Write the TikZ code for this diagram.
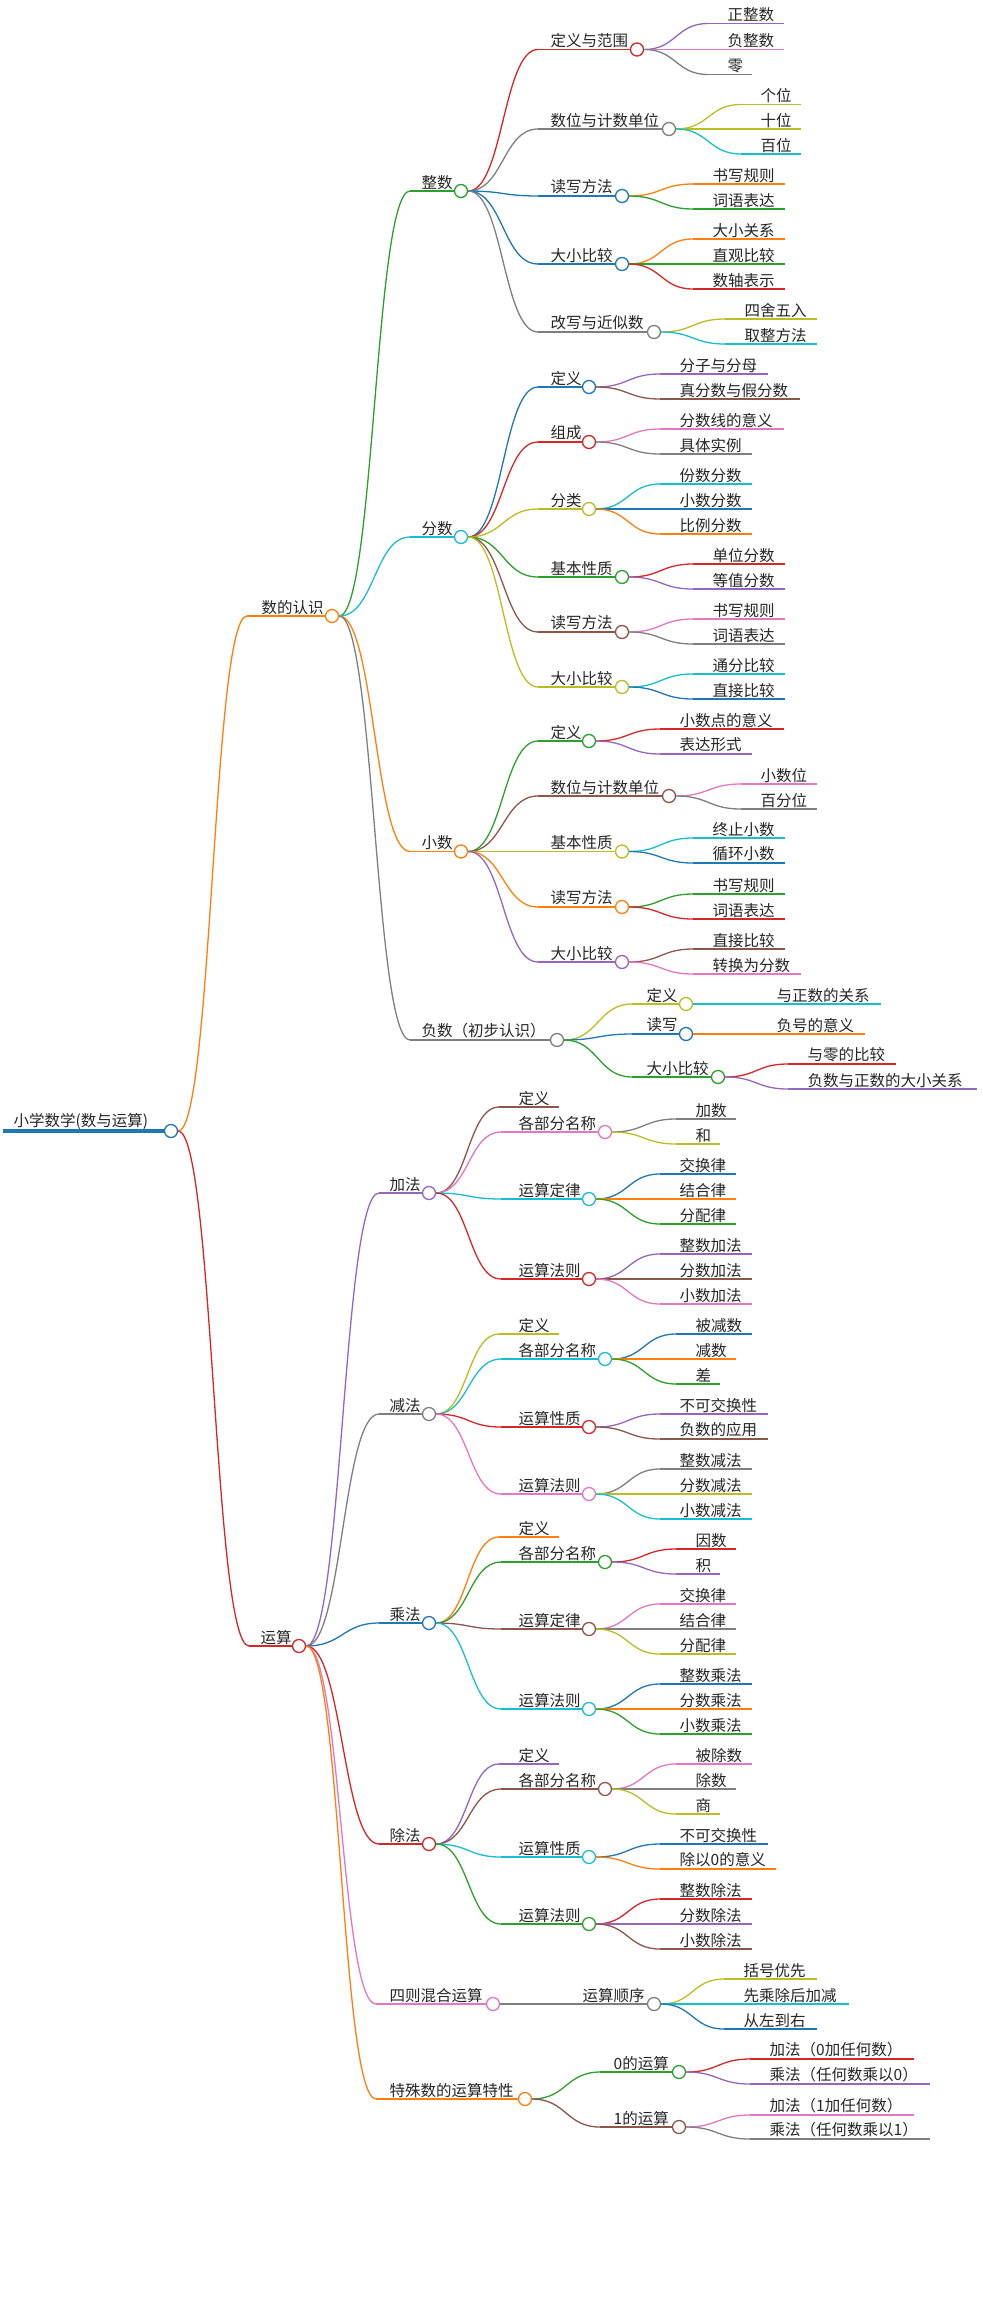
\documentclass[tikz,border=0pt]{standalone}
\usepackage{fontspec}
\setmainfont{Noto Sans CJK SC}
\usetikzlibrary{calc}
\definecolor{blue}{HTML}{1F77B4}
\definecolor{orange}{HTML}{FF7F0E}
\definecolor{green}{HTML}{2CA02C}
\definecolor{red}{HTML}{D62728}
\definecolor{purple}{HTML}{9467BD}
\definecolor{brown}{HTML}{8C564B}
\definecolor{pink}{HTML}{E377C2}
\definecolor{gray}{HTML}{7F7F7F}
\definecolor{olive}{HTML}{BCBD22}
\definecolor{cyan}{HTML}{17BECF}
\tikzset{
 lw/.style={line width=1.3pt},
 circ/.style={circle,minimum size=13pt,inner sep=0pt,line width=1.3pt,fill=white},
 lbl/.style={anchor=south west,inner sep=1.5pt,font=\fontsize{15.5}{18}\selectfont,text=black!85}
}
\newcommand\conn[3]{\draw[#3,lw] let \p1=(#1.east),\p2=(#2) in (\p1) .. controls ({0.5*\x1+0.5*\x2},\y1) and ({0.5*\x1+0.5*\x2},\y2) .. (\p2);}
% name parent xs xt y cx color text
\newcommand\inode[8]{%
 \coordinate (#1-s) at (#3,#5);
 \conn{#2}{#1-s}{#7}
 \draw[#7,lw] (#1-s) -- (#6,#5);
 \node[lbl] (#1-t) at (#4,#5) {#8};
 \node[circ,draw=#7] (#1) at (#6,#5) {};}
% name parent xt y xend color text
\newcommand\leaf[7]{%
 \coordinate (#1-s) at ({#3-18},#4);
 \coordinate (#1) at (#5,#4);
 \conn{#2}{#1-s}{#6}
 \draw[#6,lw] (#1-s) -- (#1);
 \node[lbl] (#1-t) at (#3,#4) {#7};}
\begin{document}
\begin{tikzpicture}[x=1pt,y=-1pt]
\useasboundingbox (0,0) rectangle (982,2298);
\fill[white] (0,0) rectangle (982,2298);
% root
\coordinate (R-s) at (3,1131);
\draw[blue,line width=4pt] (R-s) -- (171,1131);
\node[lbl] (R-t) at (12,1131) {小学数学(数与运算)};
\node[circ,draw=blue] (R) at (171,1131) {};
% 数的认识
\inode{A}{R}{247}{260}{616}{332}{orange}{数的认识}
\inode{Z}{A}{410}{420}{191}{461}{green}{整数}
\inode{Z1}{Z}{538}{549}{49.5}{637}{red}{定义与范围}
\leaf{Z1a}{Z1}{726}{23.5}{784}{purple}{正整数}
\leaf{Z1b}{Z1}{726}{49.5}{784}{pink}{负整数}
\leaf{Z1c}{Z1}{726}{74.5}{752}{gray}{零}
\inode{Z2}{Z}{538}{549}{129}{669}{gray}{数位与计数单位}
\leaf{Z2a}{Z2}{759}{104.5}{801}{olive}{个位}
\leaf{Z2b}{Z2}{759}{129}{801}{olive}{十位}
\leaf{Z2c}{Z2}{759}{154}{801}{cyan}{百位}
\inode{Z3}{Z}{538}{549}{196}{622}{blue}{读写方法}
\leaf{Z3a}{Z3}{711}{184}{785}{orange}{书写规则}
\leaf{Z3b}{Z3}{711}{209}{785}{green}{词语表达}
\inode{Z4}{Z}{538}{549}{264}{622}{blue}{大小比较}
\leaf{Z4a}{Z4}{711}{239}{785}{orange}{大小关系}
\leaf{Z4b}{Z4}{711}{264}{785}{green}{直观比较}
\leaf{Z4c}{Z4}{711}{289}{785}{red}{数轴表示}
\inode{Z5}{Z}{538}{549}{332}{654}{gray}{改写与近似数}
\leaf{Z5a}{Z5}{743}{319}{817}{olive}{四舍五入}
\leaf{Z5b}{Z5}{743}{344}{817}{cyan}{取整方法}
\inode{F}{A}{410}{420}{537}{461}{cyan}{分数}
\inode{F1}{F}{538}{549}{387}{589}{blue}{定义}
\leaf{F1a}{F1}{678}{374}{768}{purple}{分子与分母}
\leaf{F1b}{F1}{678}{399}{800}{brown}{真分数与假分数}
\inode{F2}{F}{538}{549}{442}{589}{red}{组成}
\leaf{F2a}{F2}{678}{429}{784}{pink}{分数线的意义}
\leaf{F2b}{F2}{678}{454}{752}{gray}{具体实例}
\inode{F3}{F}{538}{549}{509}{589}{olive}{分类}
\leaf{F3a}{F3}{678}{484}{752}{cyan}{份数分数}
\leaf{F3b}{F3}{678}{509}{752}{blue}{小数分数}
\leaf{F3c}{F3}{678}{534}{752}{orange}{比例分数}
\inode{F4}{F}{538}{549}{577}{622}{green}{基本性质}
\leaf{F4a}{F4}{711}{564}{785}{red}{单位分数}
\leaf{F4b}{F4}{711}{589}{785}{purple}{等值分数}
\inode{F5}{F}{538}{549}{632}{622}{brown}{读写方法}
\leaf{F5a}{F5}{711}{619}{785}{pink}{书写规则}
\leaf{F5b}{F5}{711}{644}{785}{gray}{词语表达}
\inode{F6}{F}{538}{549}{687}{622}{olive}{大小比较}
\leaf{F6a}{F6}{711}{674}{785}{cyan}{通分比较}
\leaf{F6b}{F6}{711}{699}{785}{blue}{直接比较}
\inode{X}{A}{410}{420}{851.5}{461}{orange}{小数}
\inode{X1}{X}{538}{549}{741}{589}{green}{定义}
\leaf{X1a}{X1}{678}{729}{784}{red}{小数点的意义}
\leaf{X1b}{X1}{678}{754}{752}{purple}{表达形式}
\inode{X2}{X}{538}{549}{796}{669}{brown}{数位与计数单位}
\leaf{X2a}{X2}{759}{784}{817}{pink}{小数位}
\leaf{X2b}{X2}{759}{809}{817}{gray}{百分位}
\inode{X3}{X}{538}{549}{851.5}{622}{olive}{基本性质}
\leaf{X3a}{X3}{711}{838}{785}{cyan}{终止小数}
\leaf{X3b}{X3}{711}{863}{785}{blue}{循环小数}
\inode{X4}{X}{538}{549}{907}{622}{orange}{读写方法}
\leaf{X4a}{X4}{711}{894}{785}{green}{书写规则}
\leaf{X4b}{X4}{711}{919}{785}{red}{词语表达}
\inode{X5}{X}{538}{549}{962}{622}{purple}{大小比较}
\leaf{X5a}{X5}{711}{949}{785}{brown}{直接比较}
\leaf{X5b}{X5}{711}{974}{801}{pink}{转换为分数}
\inode{N}{A}{410}{420}{1040}{557}{gray}{负数（初步认识）}
\inode{N1}{N}{632}{645}{1004}{686}{olive}{定义}
\leaf{N1a}{N1}{775}{1004}{881}{cyan}{与正数的关系}
\inode{N2}{N}{632}{645}{1034}{686}{blue}{读写}
\leaf{N2a}{N2}{775}{1034}{865}{orange}{负号的意义}
\inode{N3}{N}{632}{645}{1077}{718}{green}{大小比较}
\leaf{N3a}{N3}{806}{1064}{896}{red}{与零的比较}
\leaf{N3b}{N3}{806}{1089}{977}{purple}{负数与正数的大小关系}
% 运算
\inode{O}{R}{249}{259}{1646}{299}{red}{运算}
\inode{P}{O}{379}{388}{1193}{429}{purple}{加法}
\leaf{P0}{P}{517}{1107}{559}{brown}{定义}
\inode{P1}{P}{501}{517}{1132}{605}{pink}{各部分名称}
\leaf{P1a}{P1}{694}{1119}{736}{gray}{加数}
\leaf{P1b}{P1}{694}{1144}{720}{olive}{和}
\inode{P2}{P}{501}{517}{1199}{589}{cyan}{运算定律}
\leaf{P2a}{P2}{678}{1174}{736}{blue}{交换律}
\leaf{P2b}{P2}{678}{1199}{736}{orange}{结合律}
\leaf{P2c}{P2}{678}{1224}{736}{green}{分配律}
\inode{P3}{P}{501}{517}{1279}{589}{red}{运算法则}
\leaf{P3a}{P3}{678}{1254}{752}{purple}{整数加法}
\leaf{P3b}{P3}{678}{1279}{752}{brown}{分数加法}
\leaf{P3c}{P3}{678}{1304}{752}{pink}{小数加法}
\inode{M}{O}{379}{388}{1414}{429}{gray}{减法}
\leaf{M0}{M}{517}{1334}{559}{olive}{定义}
\inode{M1}{M}{501}{517}{1359}{605}{cyan}{各部分名称}
\leaf{M1a}{M1}{694}{1334}{752}{blue}{被减数}
\leaf{M1b}{M1}{694}{1359}{736}{orange}{减数}
\leaf{M1c}{M1}{694}{1384}{720}{green}{差}
\inode{M2}{M}{501}{517}{1427}{589}{red}{运算性质}
\leaf{M2a}{M2}{678}{1414}{768}{purple}{不可交换性}
\leaf{M2b}{M2}{678}{1439}{768}{brown}{负数的应用}
\inode{M3}{M}{501}{517}{1494}{589}{pink}{运算法则}
\leaf{M3a}{M3}{678}{1469}{752}{gray}{整数减法}
\leaf{M3b}{M3}{678}{1494}{752}{olive}{分数减法}
\leaf{M3c}{M3}{678}{1519}{752}{cyan}{小数减法}
\inode{T}{O}{379}{388}{1623}{429}{blue}{乘法}
\leaf{T0}{T}{517}{1537}{559}{orange}{定义}
\inode{T1}{T}{501}{517}{1562}{605}{green}{各部分名称}
\leaf{T1a}{T1}{694}{1549}{736}{red}{因数}
\leaf{T1b}{T1}{694}{1574}{720}{purple}{积}
\inode{T2}{T}{501}{517}{1629}{589}{brown}{运算定律}
\leaf{T2a}{T2}{678}{1604}{736}{pink}{交换律}
\leaf{T2b}{T2}{678}{1629}{736}{gray}{结合律}
\leaf{T2c}{T2}{678}{1654}{736}{olive}{分配律}
\inode{T3}{T}{501}{517}{1709}{589}{cyan}{运算法则}
\leaf{T3a}{T3}{678}{1684}{752}{blue}{整数乘法}
\leaf{T3b}{T3}{678}{1709}{752}{orange}{分数乘法}
\leaf{T3c}{T3}{678}{1734}{752}{green}{小数乘法}
\inode{D}{O}{379}{388}{1844}{429}{red}{除法}
\leaf{D0}{D}{517}{1764}{559}{purple}{定义}
\inode{D1}{D}{501}{517}{1789}{605}{brown}{各部分名称}
\leaf{D1a}{D1}{694}{1764}{752}{pink}{被除数}
\leaf{D1b}{D1}{694}{1789}{736}{gray}{除数}
\leaf{D1c}{D1}{694}{1814}{720}{olive}{商}
\inode{D2}{D}{501}{517}{1857}{589}{cyan}{运算性质}
\leaf{D2a}{D2}{678}{1844}{768}{blue}{不可交换性}
\leaf{D2b}{D2}{678}{1869}{776}{orange}{除以0的意义}
\inode{D3}{D}{501}{517}{1924}{589}{green}{运算法则}
\leaf{D3a}{D3}{678}{1899}{752}{red}{整数除法}
\leaf{D3b}{D3}{678}{1924}{752}{purple}{分数除法}
\leaf{D3c}{D3}{678}{1949}{752}{brown}{小数除法}
\inode{H}{O}{376}{388}{2004}{493}{pink}{四则混合运算}
\inode{H1}{H}{500}{581}{2004}{654}{gray}{运算顺序}
\leaf{H1a}{H1}{742}{1979}{817}{olive}{括号优先}
\leaf{H1b}{H1}{742}{2004}{849}{cyan}{先乘除后加减}
\leaf{H1c}{H1}{742}{2029}{817}{blue}{从左到右}
\inode{S}{O}{376}{388}{2099}{525}{orange}{特殊数的运算特性}
\inode{S1}{S}{600}{612}{2072}{679}{green}{0的运算}
\leaf{S1a}{S1}{768}{2059}{914}{red}{加法（0加任何数）}
\leaf{S1b}{S1}{768}{2084}{930}{purple}{乘法（任何数乘以0）}
\inode{S2}{S}{600}{612}{2127}{679}{brown}{1的运算}
\leaf{S2a}{S2}{768}{2115}{914}{pink}{加法（1加任何数）}
\leaf{S2b}{S2}{768}{2139}{930}{gray}{乘法（任何数乘以1）}
\end{tikzpicture}
\end{document}
